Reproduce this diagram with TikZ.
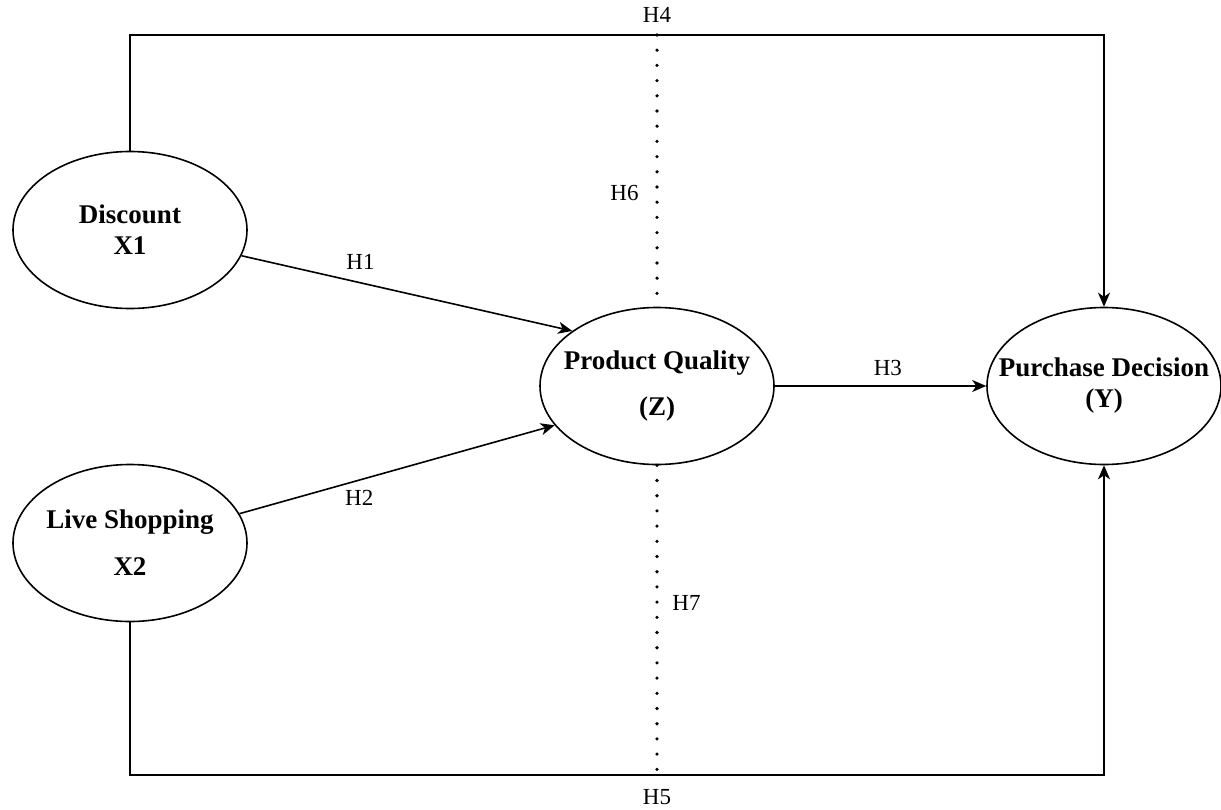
\documentclass[tikz,border=0pt]{standalone}
\usepackage{fontspec}
\setmainfont{Liberation Serif}
\usetikzlibrary{arrows.meta,shapes.geometric}
\newcommand{\nw}[1]{\makebox[0pt]{#1}}
\begin{document}
\begin{tikzpicture}[x=0.5pt, y=-0.5pt, line width=0.8pt,
    var/.style={draw, ellipse, inner sep=0pt, minimum width=117pt, minimum height=78.5pt, align=center, font=\fontsize{13.5}{15.5}\selectfont\bfseries},
    hyp/.style={font=\fontsize{11.5}{13}\selectfont},
    arr/.style={-{Stealth[length=7pt,width=6pt,inset=2pt]}},
    dots/.style={line width=1.8pt, line cap=round, dash pattern=on 0pt off 7.6pt}]
    \useasboundingbox (0,0) rectangle (1221,809);
    \node (dis) [var] at (130,230) {\nw{Discount}\\\nw{X1}};
    \node (live) [var] at (130,543) {\nw{Live Shopping}\\[8pt]\nw{X2}};
    \node (pq) [var] at (657,386) {\nw{Product Quality}\\[7.5pt]\nw{(Z)}};
    \node (pd) [var] at (1104,386) {\nw{Purchase Decision}\\\nw{(Y)}};
    \coordinate (top) at (657,35);
    \coordinate (bot) at (657,775);
    \draw[arr] (dis.-13) to node[hyp, above=3pt, pos=0.36] {H1} (pq.147);
    \draw[arr] (live.15) to node[hyp, below=1.5pt, pos=0.38] {H2} (pq.201);
    \draw[arr] (pq) to node[hyp, above=1.5pt, pos=0.535] {H3} (pd);
    \draw[arr] (dis.north) |- (top) node[hyp, above=2.7pt] {H4} -| (pd.north);
    \draw[arr] (live.south) |- (bot) node[hyp, below=3.7pt] {H5} -| (pd.south);
    \draw[dots] (top) -- (pq.north) node[hyp, left=5pt, pos=0.58] {H6};
    \draw[dots] (pq.south) -- (bot) node[hyp, right=3.5pt, pos=0.445] {H7};
\end{tikzpicture}
\end{document}
